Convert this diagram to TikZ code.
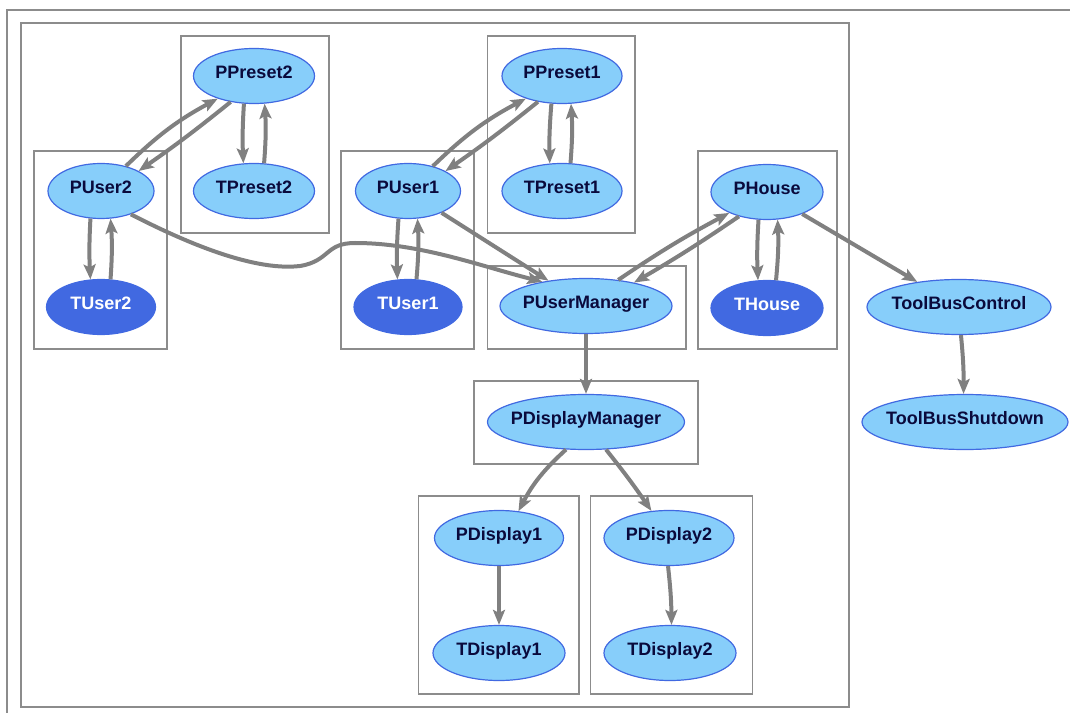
\documentclass[tikz,border=0pt]{standalone}
\usepackage{fontspec}
\setmainfont{Liberation Sans}
\usetikzlibrary{arrows.meta,shapes.geometric}
\definecolor{nodefill}{HTML}{87CEFA}
\definecolor{nodeline}{HTML}{4169E1}
\definecolor{darkfill}{HTML}{4169E1}
\definecolor{labelink}{HTML}{0A0A3C}
\definecolor{edgegray}{HTML}{808080}
\definecolor{framegray}{HTML}{8C8C8C}

\begin{document}
\begin{tikzpicture}[x=1pt,y=1pt,
  proc/.style={ellipse, draw=nodeline, line width=1.2pt, fill=nodefill, text=labelink,
    inner xsep=-30pt, inner ysep=0pt, minimum height=55pt, text height=13pt, text depth=8pt,
    font=\fontsize{18}{20}\selectfont\bfseries},
  tool/.style={proc, fill=darkfill, draw=darkfill, text=white},
  cluster/.style={draw=framegray, line width=1.5pt},
  frame/.style={draw=framegray, line width=2pt},
  flow/.style={draw=edgegray, line width=4pt, -{Stealth[length=15pt,width=12pt,inset=3pt]}},
]
\useasboundingbox (0,0) rectangle (1070,713);

% outer frames
\draw[frame] (1070,703) -- (7,703) -- (7,0);
\draw[frame] (21,6) rectangle (849,690);

% process groups
\draw[cluster] (181,480) rectangle (329,677);
\draw[cluster] (34,364) rectangle (167,562);
\draw[cluster] (487.5,480) rectangle (635,677);
\draw[cluster] (341,364) rectangle (474,562);
\draw[cluster] (487.5,364) rectangle (686,447);
\draw[cluster] (698,364) rectangle (837,562);
\draw[cluster] (474,249) rectangle (698,332);
\draw[cluster] (418.5,19) rectangle (579,217);
\draw[cluster] (590.5,19) rectangle (752.5,217);

% processes and tools
\node[proc, minimum width=121pt] (PPreset2) at (254,637) {PPreset2};
\node[proc, minimum width=121pt] (TPreset2) at (254,522) {TPreset2};
\node[proc, minimum width=106pt] (PUser2) at (101,522) {PUser2};
\node[tool, minimum width=109pt] (TUser2) at (101,406) {TUser2};
\node[proc, minimum width=120pt] (PPreset1) at (562,637) {PPreset1};
\node[proc, minimum width=120pt] (TPreset1) at (562,522) {TPreset1};
\node[proc, minimum width=105pt] (PUser1) at (408,522) {PUser1};
\node[tool, minimum width=108pt] (TUser1) at (408,406) {TUser1};
\node[proc, minimum width=172pt] (PUserManager) at (586,407) {PUserManager};
\node[proc, minimum width=112pt] (PHouse) at (767,521) {PHouse};
\node[tool, minimum width=112pt] (THouse) at (767,405) {THouse};
\node[proc, minimum width=184pt] (ToolBusControl) at (959,406) {ToolBusControl};
\node[proc, minimum width=206pt] (ToolBusShutdown) at (965,291) {ToolBusShutdown};
\node[proc, minimum width=197pt] (PDisplayManager) at (586,291) {PDisplayManager};
\node[proc, minimum width=129pt] (PDisplay1) at (499,175) {PDisplay1};
\node[proc, minimum width=132pt] (TDisplay1) at (499,60) {TDisplay1};
\node[proc, minimum width=130pt] (PDisplay2) at (669,175) {PDisplay2};
\node[proc, minimum width=132pt] (TDisplay2) at (670,60) {TDisplay2};

% connections
\draw[flow] (PUser2.45) to[bend left=8] (PPreset2.212);
\draw[flow] (PPreset2.228) to[bend left=2] (PUser2.28);
\draw[flow] (PPreset2.250) to[bend right=3] (TPreset2.111);
\draw[flow] (TPreset2.70) to[bend right=4] (PPreset2.291);
\draw[flow] (PUser2.249) to[bend right=3] (TUser2.111);
\draw[flow] (TUser2.71) to[bend right=4] (PUser2.289);
\draw[flow] (PUser2.322) .. controls (175,476) and (250,441) .. (300,447)
  .. controls (330,452) and (325,470) .. (355,470)
  .. controls (420,470) and (480,447) .. (PUserManager.151);

\draw[flow] (PUser1.45) to[bend left=8] (PPreset1.212);
\draw[flow] (PPreset1.227) to[bend left=2] (PUser1.28);
\draw[flow] (PPreset1.249) to[bend right=3] (TPreset1.114);
\draw[flow] (TPreset1.73) to[bend right=4] (PPreset1.288);
\draw[flow] (PUser1.251) to[bend right=3] (TUser1.111);
\draw[flow] (TUser1.73) to[bend right=4] (PUser1.289);
\draw[flow] (PUser1.327) -- (PUserManager.146);

\draw[flow] (PUserManager.39) to[bend left=3] (PHouse.209);
\draw[flow] (PHouse.221) to[bend left=2] (PUserManager.26);
\draw[flow] (PHouse.253) to[bend right=3] (THouse.108);
\draw[flow] (THouse.72) to[bend right=4] (PHouse.291);
\draw[flow] (PHouse.328) -- (ToolBusControl.149);
\draw[flow] (ToolBusControl.274) to[bend left=3] (ToolBusShutdown.93);

\draw[flow] (PUserManager.south) -- (PDisplayManager.north);
\draw[flow] (PDisplayManager.234) to[bend right=10] (PDisplay1.54);
\draw[flow] (PDisplayManager.306) to[bend left=2] (PDisplay2.123);
\draw[flow] (PDisplay1.south) -- (TDisplay1.north);
\draw[flow] (PDisplay2.268) to[bend left=3] (TDisplay2.87);
\end{tikzpicture}
\end{document}
